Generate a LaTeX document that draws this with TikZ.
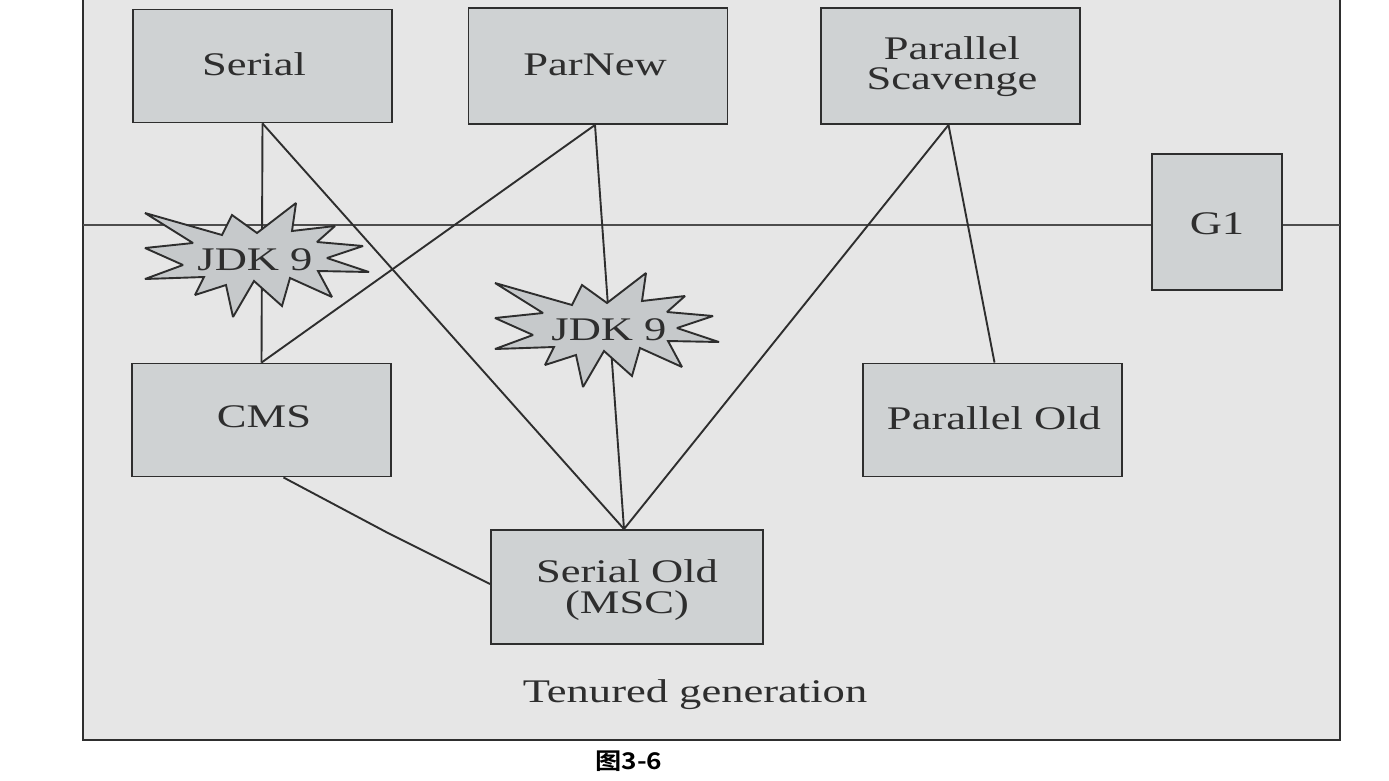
\documentclass[tikz,border=0pt]{standalone}
\usepackage{fontspec}
\setmainfont[FakeStretch=1.35]{Liberation Serif}
\newfontfamily\cjkcap[FakeStretch=1.14,BoldFont={Noto Sans CJK SC Bold}]{Noto Sans CJK SC}
\definecolor{panelgray}{HTML}{E6E6E6}
\definecolor{boxgray}{HTML}{CFD2D3}
\definecolor{stargray}{HTML}{C6C9CB}
\definecolor{inkgray}{HTML}{2E2E2E}
\tikzset{
  boxnode/.style={draw=inkgray,line width=1.9pt,fill=boxgray,inner sep=0pt,minimum width=#1},
  lab/.style={inner sep=0pt,text=inkgray,font=\fontsize{33}{30}\selectfont,align=center},
  wire/.style={draw=inkgray,line width=1.9pt},
  thinwire/.style={draw=inkgray!85,line width=1.3pt},
  burst/.style={draw=inkgray,line width=1.9pt,fill=stargray,line join=miter,miter limit=2}
}
\newcommand{\jdkburst}{(145,213) -- (222,235) -- (232,215) -- (257,233) -- (296,203) -- (292,231) -- (335,226) -- (317,242) -- (363,246) -- (327,258) -- (369,272) -- (318,271) -- (332,297) -- (290,278) -- (282,306) -- (254,281) -- (233,317) -- (226,285) -- (195,295) -- (204,277) -- (145,279) -- (183,265) -- (145,248) -- (193,243) -- cycle}
\begin{document}
\begin{tikzpicture}[x=1pt,y=-1pt]
\useasboundingbox (0,0) rectangle (1389,780);
% panel, running off the top of the page
\path[fill=panelgray] (83,0) rectangle (1340,740);
\draw[wire] (83,0) -- (83,740) -- (1340,740) -- (1340,0);
% generation divider
\coordinate (divL) at (83,225);
\coordinate (divR) at (1340,225);
\draw[thinwire] (divL) -- (divR);
% boxes
\node[boxnode=259pt,minimum height=113pt] (serial) at (262.5,66) {};
\node[boxnode=259pt,minimum height=116pt] (parnew) at (598,66) {};
\node[boxnode=259pt,minimum height=116pt] (scav) at (950.5,66) {};
\node[boxnode=130pt,minimum height=136pt] (gone) at (1217,222) {};
\node[boxnode=259pt,minimum height=113pt] (cms) at (261.5,420) {};
\node[boxnode=259pt,minimum height=113pt] (parold) at (992.5,420) {};
\node[boxnode=272pt,minimum height=114pt] (serold) at (627,587) {};
% connectors
\coordinate (bend) at (388,533);
\draw[wire] (serial.south) -- (cms.north);
\draw[wire] (serial.south) -- ([xshift=-3pt]serold.north);
\draw[wire] ([xshift=-3pt]parnew.south) -- (cms.north);
\draw[wire] ([xshift=-3pt]parnew.south) -- ([xshift=-3pt]serold.north);
\draw[wire] ([xshift=-2pt]scav.south) -- ([xshift=-3pt]serold.north);
\draw[wire] ([xshift=-2pt]scav.south) -- ([xshift=2pt]parold.north);
\draw[wire] ([xshift=22pt]cms.south) -- (bend) -- ([yshift=3pt]serold.west);
% bursts
\draw[burst] \jdkburst;
\begin{scope}[shift={(350,70)}]
\draw[burst] \jdkburst;
\end{scope}
% labels
\node[lab] (tserial) at (254,64) {Serial};
\node[lab] (tparnew) at (595,65) {ParNew};
\node[lab] (tscav) at (952,67) {Parallel\\Scavenge};
\node[lab] (tgone) at (1217,224) {G1};
\node[lab] (tcms) at (264,417) {CMS};
\node[lab] (tparold) at (994,418) {Parallel Old};
\node[lab,font=\fontsize{33}{31}\selectfont] (tserold) at (627,590) {Serial Old\\(MSC)};
\node[lab] (tjdka) at (255,260) {JDK 9};
\node[lab] (tjdkb) at (609,330) {JDK 9};
\node[lab] (tten) at (695,695) {Tenured generation};
\node[inner sep=0pt,text=black,font=\cjkcap\bfseries\fontsize{23}{23}\selectfont] (cap) at (629,761) {图3-6};
\end{tikzpicture}
\end{document}
